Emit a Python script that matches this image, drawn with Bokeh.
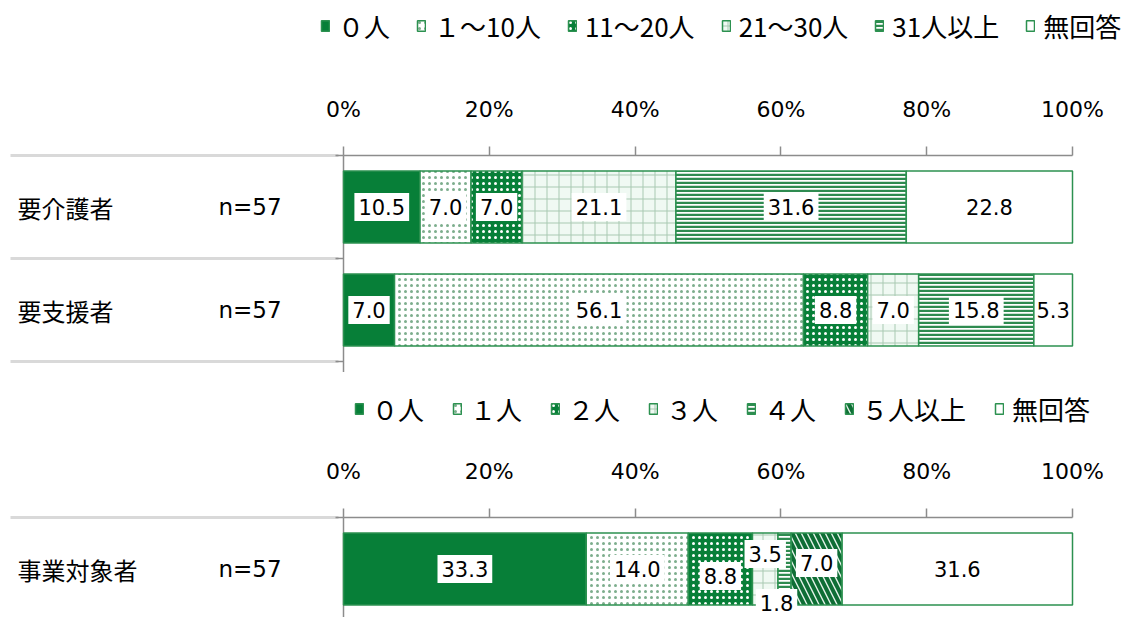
import numpy as np
from bokeh.plotting import figure
from bokeh.layouts import column
from bokeh.models import (ColumnDataSource, Range1d, FixedTicker, PrintfTickFormatter,
                          Legend, LegendItem)
from bokeh.core.properties import value
from bokeh.embed import file_html
from bokeh.resources import INLINE

# ---------------- data ----------------
categories_a = ["要介護者", "要支援者"]
counts_a = ["n=57", "n=57"]
series_a = ["０人", "１～10人", "11～20人", "21～30人", "31人以上", "無回答"]
a_zero = [10.5, 7.0]
a_1_10 = [7.0, 56.1]
a_11_20 = [7.0, 8.8]
a_21_30 = [21.1, 7.0]
a_31_up = [31.6, 15.8]
a_none = [22.8, 5.3]

categories_b = ["事業対象者"]
counts_b = ["n=57"]
series_b = ["０人", "１人", "２人", "３人", "４人", "５人以上", "無回答"]
b_zero = [33.3]
b_one = [14.0]
b_two = [8.8]
b_three = [3.5]
b_four = [1.8]
b_five_up = [7.0]
b_none = [31.6]

x_ticks = [0, 20, 40, 60, 80, 100]

# ---------------- styles ----------------
GREEN = "#077F38"
EDGE = "#2C9150"
AXIS = "#8C8C8C"
SEP = "#D9D9D9"
PX = 7.29        # pixels per percent
BAND = 103.0     # pixels per category band
FIG_W = 1126
ZERO_PX = 343    # x pixel of 0% inside figure

S_SOLID = dict(fill_color=GREEN)
S_DOT_L = dict(fill_color="#FFFFFF", hatch_pattern="dot", hatch_color="#7DAE8D", hatch_scale=6, hatch_weight=1)
S_DOT_D = dict(fill_color=GREEN, hatch_pattern="dot", hatch_color="#FFFFFF", hatch_scale=6, hatch_weight=0.8)
S_GRID = dict(fill_color="#F0F9F3", hatch_pattern="cross", hatch_color="#A9C9B2", hatch_scale=12, hatch_weight=1)
S_HLINE = dict(fill_color="#FFFFFF", hatch_pattern="horizontal_line", hatch_color="#2E8B50", hatch_scale=4, hatch_weight=2.5)
S_DIAG = dict(fill_color="#E6F3EA", hatch_pattern="left_diagonal_line", hatch_color="#0E6E35", hatch_scale=12, hatch_weight=4)
S_BLANK = dict(fill_color="#FFFFFF")


def make_panel(categories, counts, names, values, styles, fig_h, axis_px, legend_xy, spacing,
               lab_dx=None, lab_dy=None):
    n = len(categories)
    x0 = -ZERO_PX / PX
    x1 = (FIG_W - ZERO_PX) / PX
    ytop = -axis_px / BAND
    ybot = (fig_h - axis_px) / BAND
    p = figure(width=FIG_W, height=fig_h, x_range=Range1d(x0, x1), y_range=Range1d(ybot, ytop),
               x_axis_location="above", y_axis_location=None, toolbar_location=None,
               output_backend="svg", min_border=0, outline_line_color=None)
    p.grid.visible = False
    ax = p.xaxis[0]
    ax.fixed_location = 0
    ax.ticker = FixedTicker(ticks=x_ticks)
    ax.formatter = PrintfTickFormatter(format="%d%%")
    ax.bounds = (0, 100)
    ax.major_tick_out = 9
    ax.major_tick_in = 0
    ax.minor_tick_line_color = None
    ax.axis_line_color = AXIS
    ax.axis_line_width = 1.5
    ax.major_tick_line_color = AXIS
    ax.major_tick_line_width = 1.5
    ax.major_label_text_font = "DejaVu Sans"
    ax.major_label_text_font_size = "22px"
    ax.major_label_text_color = "#000000"
    ax.major_label_standoff = 25

    ys = [i + 0.5 for i in range(n)]
    # separators and left axis
    bounds = list(range(n + 1))
    p.segment(x0=[(10 - ZERO_PX) / PX] * len(bounds), x1=[(338 - ZERO_PX) / PX] * len(bounds),
              y0=bounds, y1=bounds, line_color=SEP, line_width=3)
    p.segment(x0=[0], y0=[0], x1=[0], y1=[ybot], line_color=AXIS, line_width=1.5)
    p.segment(x0=[0] * len(bounds), x1=[-8 / PX] * len(bounds), y0=bounds, y1=bounds,
              line_color=AXIS, line_width=1.5)
    p.text(x=[(17 - ZERO_PX) / PX] * n, y=ys, text=categories, text_font=value("Noto Sans CJK JP"),
           text_font_size="24px", text_baseline="middle", text_align="left", text_color="#000000")
    p.text(x=[(218 - ZERO_PX) / PX] * n, y=ys, text=counts, text_font=value("DejaVu Sans"),
           text_font_size="23px", text_baseline="middle", text_align="left", text_color="#000000")

    cum = np.zeros(n)
    items = []
    label_sources = []
    for k, (name, vals, st) in enumerate(zip(names, values, styles)):
        vals = np.array(vals, dtype=float)
        left = cum.copy()
        right = cum + vals
        cum = right
        src = ColumnDataSource(dict(y=ys, left=left, right=right))
        r = p.hbar(y="y", left="left", right="right", height=0.70, source=src,
                   line_color=EDGE, line_width=1.5, **st)
        items.append(LegendItem(label=name, renderers=[r]))
        dx = lab_dx[k] if lab_dx else [0] * n
        dy = lab_dy[k] if lab_dy else [0] * n
        lsrc = ColumnDataSource(dict(x=(left + right) / 2, y=ys, t=["%.1f" % v for v in vals],
                                     dx=dx, dy=dy))
        label_sources.append((lsrc, k < len(names) - 1))

    for lsrc, boxed in label_sources:
        p.text(x="x", y="y", text="t", source=lsrc, x_offset="dx", y_offset="dy",
               text_align="center", text_baseline="middle", text_font=value("DejaVu Sans"),
               text_font_size="21px", text_color="#000000",
               background_fill_color="#FFFFFF" if boxed else None,
               padding=dict(left=4, right=4, top=6, bottom=6))

    leg = Legend(items=items, orientation="horizontal", location=legend_xy,
                 glyph_width=10, glyph_height=13, label_standoff=8, spacing=spacing,
                 padding=0, margin=0, background_fill_alpha=0, border_line_color=None,
                 label_text_font="Noto Sans CJK JP", label_text_font_size="26px",
                 label_text_color="#000000")
    p.add_layout(leg)
    return p


p1 = make_panel(categories_a, counts_a, series_a,
                [a_zero, a_1_10, a_11_20, a_21_30, a_31_up, a_none],
                [S_SOLID, S_DOT_L, S_DOT_D, S_GRID, S_HLINE, S_BLANK],
                fig_h=372, axis_px=155, legend_xy=(320, 328), spacing=26)

b_dx = [[0], [0], [0], [0], [-8], [0], [0]]
b_dy = [[0], [0], [7], [-15], [34], [-6], [0]]
p2 = make_panel(categories_b, counts_b, series_b,
                [b_zero, b_one, b_two, b_three, b_four, b_five_up, b_none],
                [S_SOLID, S_DOT_L, S_DOT_D, S_GRID, S_HLINE, S_DIAG, S_BLANK],
                fig_h=245, axis_px=145, legend_xy=(354, 190), spacing=28,
                lab_dx=b_dx, lab_dy=b_dy)

layout = column(p1, p2, spacing=0)
open("out.html", "w").write(file_html(layout, INLINE))
